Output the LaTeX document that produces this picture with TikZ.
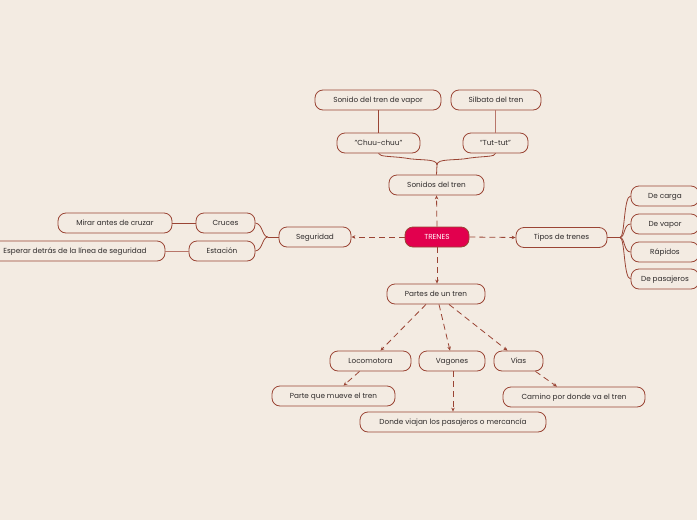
\documentclass[tikz,border=0pt]{standalone}
\usepackage{fontspec}
\setmainfont{Poppins}
\usetikzlibrary{arrows.meta}
\definecolor{bg}{HTML}{F3EBE2}
\definecolor{brd}{HTML}{9A4434}
\definecolor{lbrd}{HTML}{B8766A}
\definecolor{txt}{HTML}{2E2A2A}
\definecolor{hot}{HTML}{E2004E}
\tikzset{
  x=1pt,y=-1pt,
  box/.style={draw=brd,line width=0.8pt,rounded corners=8pt,minimum height=20pt,inner sep=0pt,
    text height=5pt,text depth=1pt,
    font=\fontsize{7.3}{8}\selectfont,text=txt,fill=bg},
  hub/.style={box,fill=hot,text=white,draw=brd},
  dline/.style={draw=brd,line width=0.8pt,dash pattern=on 6pt off 4pt},
  darr/.style={dline,-{Stealth[length=4pt,width=3.5pt]}},
  tree/.style={draw=brd,line width=0.8pt},
  ltree/.style={draw=lbrd,line width=1pt},
}
\begin{document}
\begin{tikzpicture}
\fill[bg] (0,0) rectangle (697,520);
\useasboundingbox (0,0) rectangle (697,520);
% nodes
\node[hub,minimum width=64pt] (tr) at (437,237) {TRENES};
\node[box,minimum width=95pt] (son) at (436.5,185) {Sonidos del tren};
\node[box,minimum width=83pt] (chu) at (378.5,143) {"Chuu-chuu"};
\node[box,minimum width=65pt] (tut) at (495.5,143) {"Tut-tut"};
\node[box,minimum width=126pt] (vap) at (378,100) {Sonido del tren de vapor};
\node[box,minimum width=90pt] (sil) at (496,100) {Silbato del tren};
\node[box,minimum width=72pt] (seg) at (315,237) {Seguridad};
\node[box,minimum width=59pt] (cru) at (225.5,223) {Cruces};
\node[box,minimum width=66pt] (est) at (222,251) {Estación};
\node[box,minimum width=114pt] (mir) at (115,223) {Mirar antes de cruzar};
\node[box,minimum width=180pt] (esp) at (75,251) {Esperar detrás de la línea de seguridad};
\node[box,minimum width=91pt] (tip) at (561.5,237.5) {Tipos de trenes};
\node[box,minimum width=68pt] (car) at (665,196) {De carga};
\node[box,minimum width=68pt] (dva) at (665,224) {De vapor};
\node[box,minimum width=68pt] (rap) at (665,252) {Rápidos};
\node[box,minimum width=68pt] (pas) at (665,279) {De pasajeros};
\node[box,minimum width=98pt] (par) at (436,294) {Partes de un tren};
\node[box,minimum width=81pt] (loc) at (370.5,361) {Locomotora};
\node[box,minimum width=66pt] (vag) at (452,361) {Vagones};
\node[box,minimum width=49pt] (via) at (518.5,361) {Vías};
\node[box,minimum width=123pt] (pqm) at (333.5,396) {Parte que mueve el tren};
\node[box,minimum width=142pt] (cam) at (574,397) {Camino por donde va el tren};
\node[box,minimum width=186pt] (don) at (453,422) {Donde viajan los pasajeros o mercancía};
% dashed arrows
\draw[darr] (tr.north) -- (son.south);
\draw[darr] (tr.west) -- (seg.east);
\draw[darr] (tr.east) -- (tip.west);
\draw[darr] (tr.south) -- (tr.south |- par.north);
\draw[darr] ([xshift=-10pt]par.south) -- ([xshift=10pt]loc.north);
\draw[darr] ([xshift=3pt]par.south) -- ([xshift=-2pt]vag.north);
\draw[darr] ([xshift=13pt]par.south) -- ([xshift=-11pt]via.north);
\draw[darr] ([xshift=-11pt]loc.south) -- ([xshift=10pt]pqm.north);
\draw[darr] ([xshift=1pt]vag.south) -- (don.north);
\draw[darr] ([xshift=17pt]via.south) -- ([xshift=-17pt]cam.north);
% solid tree lines
\coordinate (sj) at (437,165);
\draw[tree] (son.north) -- (sj);
\draw[tree] (sj) .. controls (437,158) and (420,161) .. (405,158) .. controls (390,156) and (380,157) .. (chu.south);
\draw[tree] (sj) .. controls (437,158) and (455,161) .. (470,158) .. controls (485,156) and (495,157) .. (tut.south);
\draw[tree] (chu.north) -- (vap.south -| chu.north);
\draw[ltree] (tut.north) -- (sil.south -| tut.north);
\coordinate (gj) at (268,237);
\draw[tree] (seg.west) -- (gj);
\draw[tree] (gj) .. controls (262,237) and (263,224) .. (cru.east);
\draw[tree] (gj) .. controls (262,237) and (263,250) .. (est.east);
\draw[tree] (cru.west) -- (mir.east);
\draw[ltree] (est.west) -- (esp.east);
\coordinate (tj) at (620,237.5);
\draw[draw=brd,line width=1.8pt] (tip.east) -- (tj);
\foreach \n in {car,dva,rap,pas}{
  \draw[tree] (tj) .. controls (625,237.5) and ([xshift=-7pt]\n.west) .. (\n.west);
}
\end{tikzpicture}
\end{document}
